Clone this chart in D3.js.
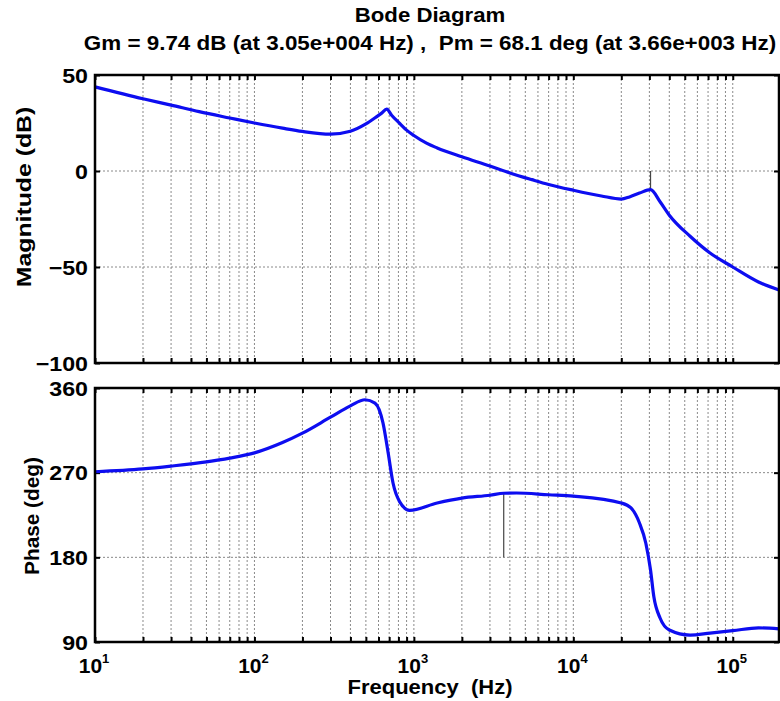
<!DOCTYPE html>
<html>
<head>
<meta charset="utf-8">
<script src="https://cdn.jsdelivr.net/npm/d3@7"></script>
<style>
  body { margin: 0; background: #fff; }
  text { font-family: "Liberation Sans", Arial, sans-serif; font-weight: bold; fill: #000; }
</style>
</head>
<body>
<div id="chart"></div>
<script>
// values
var freqMag = [10, 20, 30, 45, 70, 100, 150, 200, 300, 400, 500, 585, 625, 676, 725, 815, 900, 1000, 1200, 1400,
    2000, 3000, 4000, 5500, 7000, 10000, 15000, 20000, 22500, 26000, 30500, 35000, 40000, 54000, 72000, 100000, 145000, 195000];
var magDb = [43.8, 37.6, 34.3, 30.9, 27.6, 25, 22.3, 20.6, 19.2, 20.7, 24.5, 28.3, 30, 32.2, 29, 24.8, 21.3, 18.5, 14.5, 12,
    7.4, 2.6, -1, -4.5, -7, -10, -13, -14.6, -13.5, -11.5, -9.74, -16, -23, -34, -42.7, -50, -57.8, -62];

var freqPh = [10, 20, 30, 50, 70, 100, 150, 200, 300, 400, 494, 570, 640, 690, 740, 815, 940, 1400, 2000, 3000, 3660,
    4400, 7000, 10000, 20000, 23000, 26000, 28500, 30500, 32000, 35000, 40000, 54000, 72000, 100000, 145000, 195000];
var phaseDeg = [271, 274, 277, 281.5, 285.5, 291, 302, 312, 329, 341, 347.5, 344, 323, 291, 259, 239, 230, 237.8, 243, 246, 248.1,
    248.4, 246.5, 245, 237.8, 232.5, 216.5, 195, 166.5, 138, 115.5, 102.8, 97.4, 99.5, 102, 105, 104];

var magTicks = [-100, -50, 0, 50];
var phaseTicks = [90, 180, 270, 360];
var decades = [1, 2, 3, 4, 5];

var gainMargin = {freq: 30500, db: -9.74};
var phaseMargin = {freq: 3660, deg: 248.1};

var W = 780, H = 701;
var left = 95, right = 779;
var magBox = {top: 75, bottom: 363};
var phBox = {top: 388, bottom: 642};

var svg = d3.select("#chart").append("svg")
    .attr("width", W).attr("height", H);

var x = d3.scaleLog().domain([10, 195000]).range([left, right]);
var yMag = d3.scaleLinear().domain([-100, 50]).range([magBox.bottom, magBox.top]);
var yPh = d3.scaleLinear().domain([90, 360]).range([phBox.bottom, phBox.top]);

// the reference lettering is drawn a little wide
function stretch(sel, k) {
    sel.each(function() {
        var w = this.getComputedTextLength();
        d3.select(this).attr("textLength", w * k).attr("lengthAdjust", "spacingAndGlyphs");
    });
}

// every 1..9 x 10^n inside the domain
var minor = [];
for (var e = 1; e <= 5; e++) {
    for (var k = 1; k <= 9; k++) {
        var f = k * Math.pow(10, e);
        if (f <= x.domain()[1]) minor.push(f);
    }
}

function panel(y, box, ticks, data) {
    var g = svg.append("g");

    // dotted grid
    g.append("g").selectAll("line").data(minor).enter().append("line")
        .attr("x1", function(d) { return x(d); }).attr("x2", function(d) { return x(d); })
        .attr("y1", box.top).attr("y2", box.bottom)
        .attr("stroke", "#8a8a8a").attr("stroke-width", 1).attr("stroke-dasharray", "2,2");
    g.append("g").selectAll("line").data(ticks.slice(1, -1)).enter().append("line")
        .attr("x1", left).attr("x2", right)
        .attr("y1", function(d) { return y(d); }).attr("y2", function(d) { return y(d); })
        .attr("stroke", "#8a8a8a").attr("stroke-width", 1).attr("stroke-dasharray", "2,2");

    // inward ticks on all four sides
    var axB = g.append("g").attr("transform", "translate(0," + box.bottom + ")")
        .call(d3.axisBottom(x).tickValues(minor).tickSize(-5).tickFormat(""));
    var axT = g.append("g").attr("transform", "translate(0," + box.top + ")")
        .call(d3.axisTop(x).tickValues(minor).tickSize(-5).tickFormat(""));
    var axL = g.append("g").attr("transform", "translate(" + left + ",0)")
        .call(d3.axisLeft(y).tickValues(ticks).tickSize(-5).tickPadding(7));
    var axR = g.append("g").attr("transform", "translate(" + right + ",0)")
        .call(d3.axisRight(y).tickValues(ticks).tickSize(-5).tickFormat(""));
    [axB, axT, axL, axR].forEach(function(a) {
        a.select(".domain").remove();
        a.selectAll(".tick line").attr("stroke", "#000").attr("stroke-width", 2);
    });
    axL.selectAll(".tick text")
        .style("font-family", "'Liberation Sans', Arial, sans-serif")
        .style("font-weight", "bold")
        .style("font-size", "20px")
        .attr("dy", "0.36em")
        .call(stretch, 1.16);

    var line = d3.line()
        .x(function(d) { return x(d[0]); })
        .y(function(d) { return y(d[1]); })
        .curve(d3.curveMonotoneX);

    g.append("path")
        .datum(data)
        .attr("d", line)
        .attr("fill", "none")
        .attr("stroke", "#0d0df0")
        .attr("stroke-width", 3.2)
        .attr("stroke-linejoin", "round");

    g.append("rect")
        .attr("x", left).attr("y", box.top)
        .attr("width", right - left).attr("height", box.bottom - box.top)
        .attr("fill", "none").attr("stroke", "#000").attr("stroke-width", 2.5);
    return g;
}

var gMag = panel(yMag, magBox, magTicks, d3.zip(freqMag, magDb));
var gPh = panel(yPh, phBox, phaseTicks, d3.zip(freqPh, phaseDeg));

// margin markers
gMag.insert("line", "path")
    .attr("x1", x(gainMargin.freq)).attr("x2", x(gainMargin.freq))
    .attr("y1", yMag(gainMargin.db)).attr("y2", yMag(0))
    .attr("stroke", "#444").attr("stroke-width", 1.2);
gPh.insert("line", "path")
    .attr("x1", x(phaseMargin.freq)).attr("x2", x(phaseMargin.freq))
    .attr("y1", yPh(180)).attr("y2", yPh(phaseMargin.deg))
    .attr("stroke", "#444").attr("stroke-width", 1.2);

svg.append("text")
    .attr("transform", "translate(24,197) rotate(-90)")
    .attr("text-anchor", "middle")
    .attr("dy", "0.35em")
    .style("font-size", "20px")
    .text("Magnitude (dB)")
    .call(stretch, 1.24);
svg.append("text")
    .attr("transform", "translate(32,516) rotate(-90)")
    .attr("text-anchor", "middle")
    .attr("dy", "0.35em")
    .style("font-size", "20px")
    .text("Phase (deg)")
    .call(stretch, 1.04);

// x tick labels as 10^n
var xl = svg.append("g").selectAll("text").data(decades).enter().append("text")
    .attr("x", function(d) { return x(Math.pow(10, d)) - 1; })
    .attr("y", 673)
    .attr("text-anchor", "middle")
    .style("font-size", "21px");
xl.append("tspan").text("10");
xl.append("tspan").attr("dy", -10).style("font-size", "13px").text(function(d) { return d; });

svg.append("text")
    .attr("x", 430).attr("y", 694)
    .attr("text-anchor", "middle")
    .style("font-size", "20px")
    .attr("xml:space", "preserve")
    .text("Frequency  (Hz)")
    .call(stretch, 1.1);

svg.append("text")
    .attr("x", 430).attr("y", 22)
    .attr("text-anchor", "middle")
    .style("font-size", "20px")
    .text("Bode Diagram")
    .call(stretch, 1.11);
svg.append("text")
    .attr("x", 430).attr("y", 50)
    .attr("text-anchor", "middle")
    .style("font-size", "20px")
    .attr("xml:space", "preserve")
    .text("Gm = 9.74 dB (at 3.05e+004 Hz) ,  Pm = 68.1 deg (at 3.66e+003 Hz)")
    .call(stretch, 1.12);
</script>
</body>
</html>
